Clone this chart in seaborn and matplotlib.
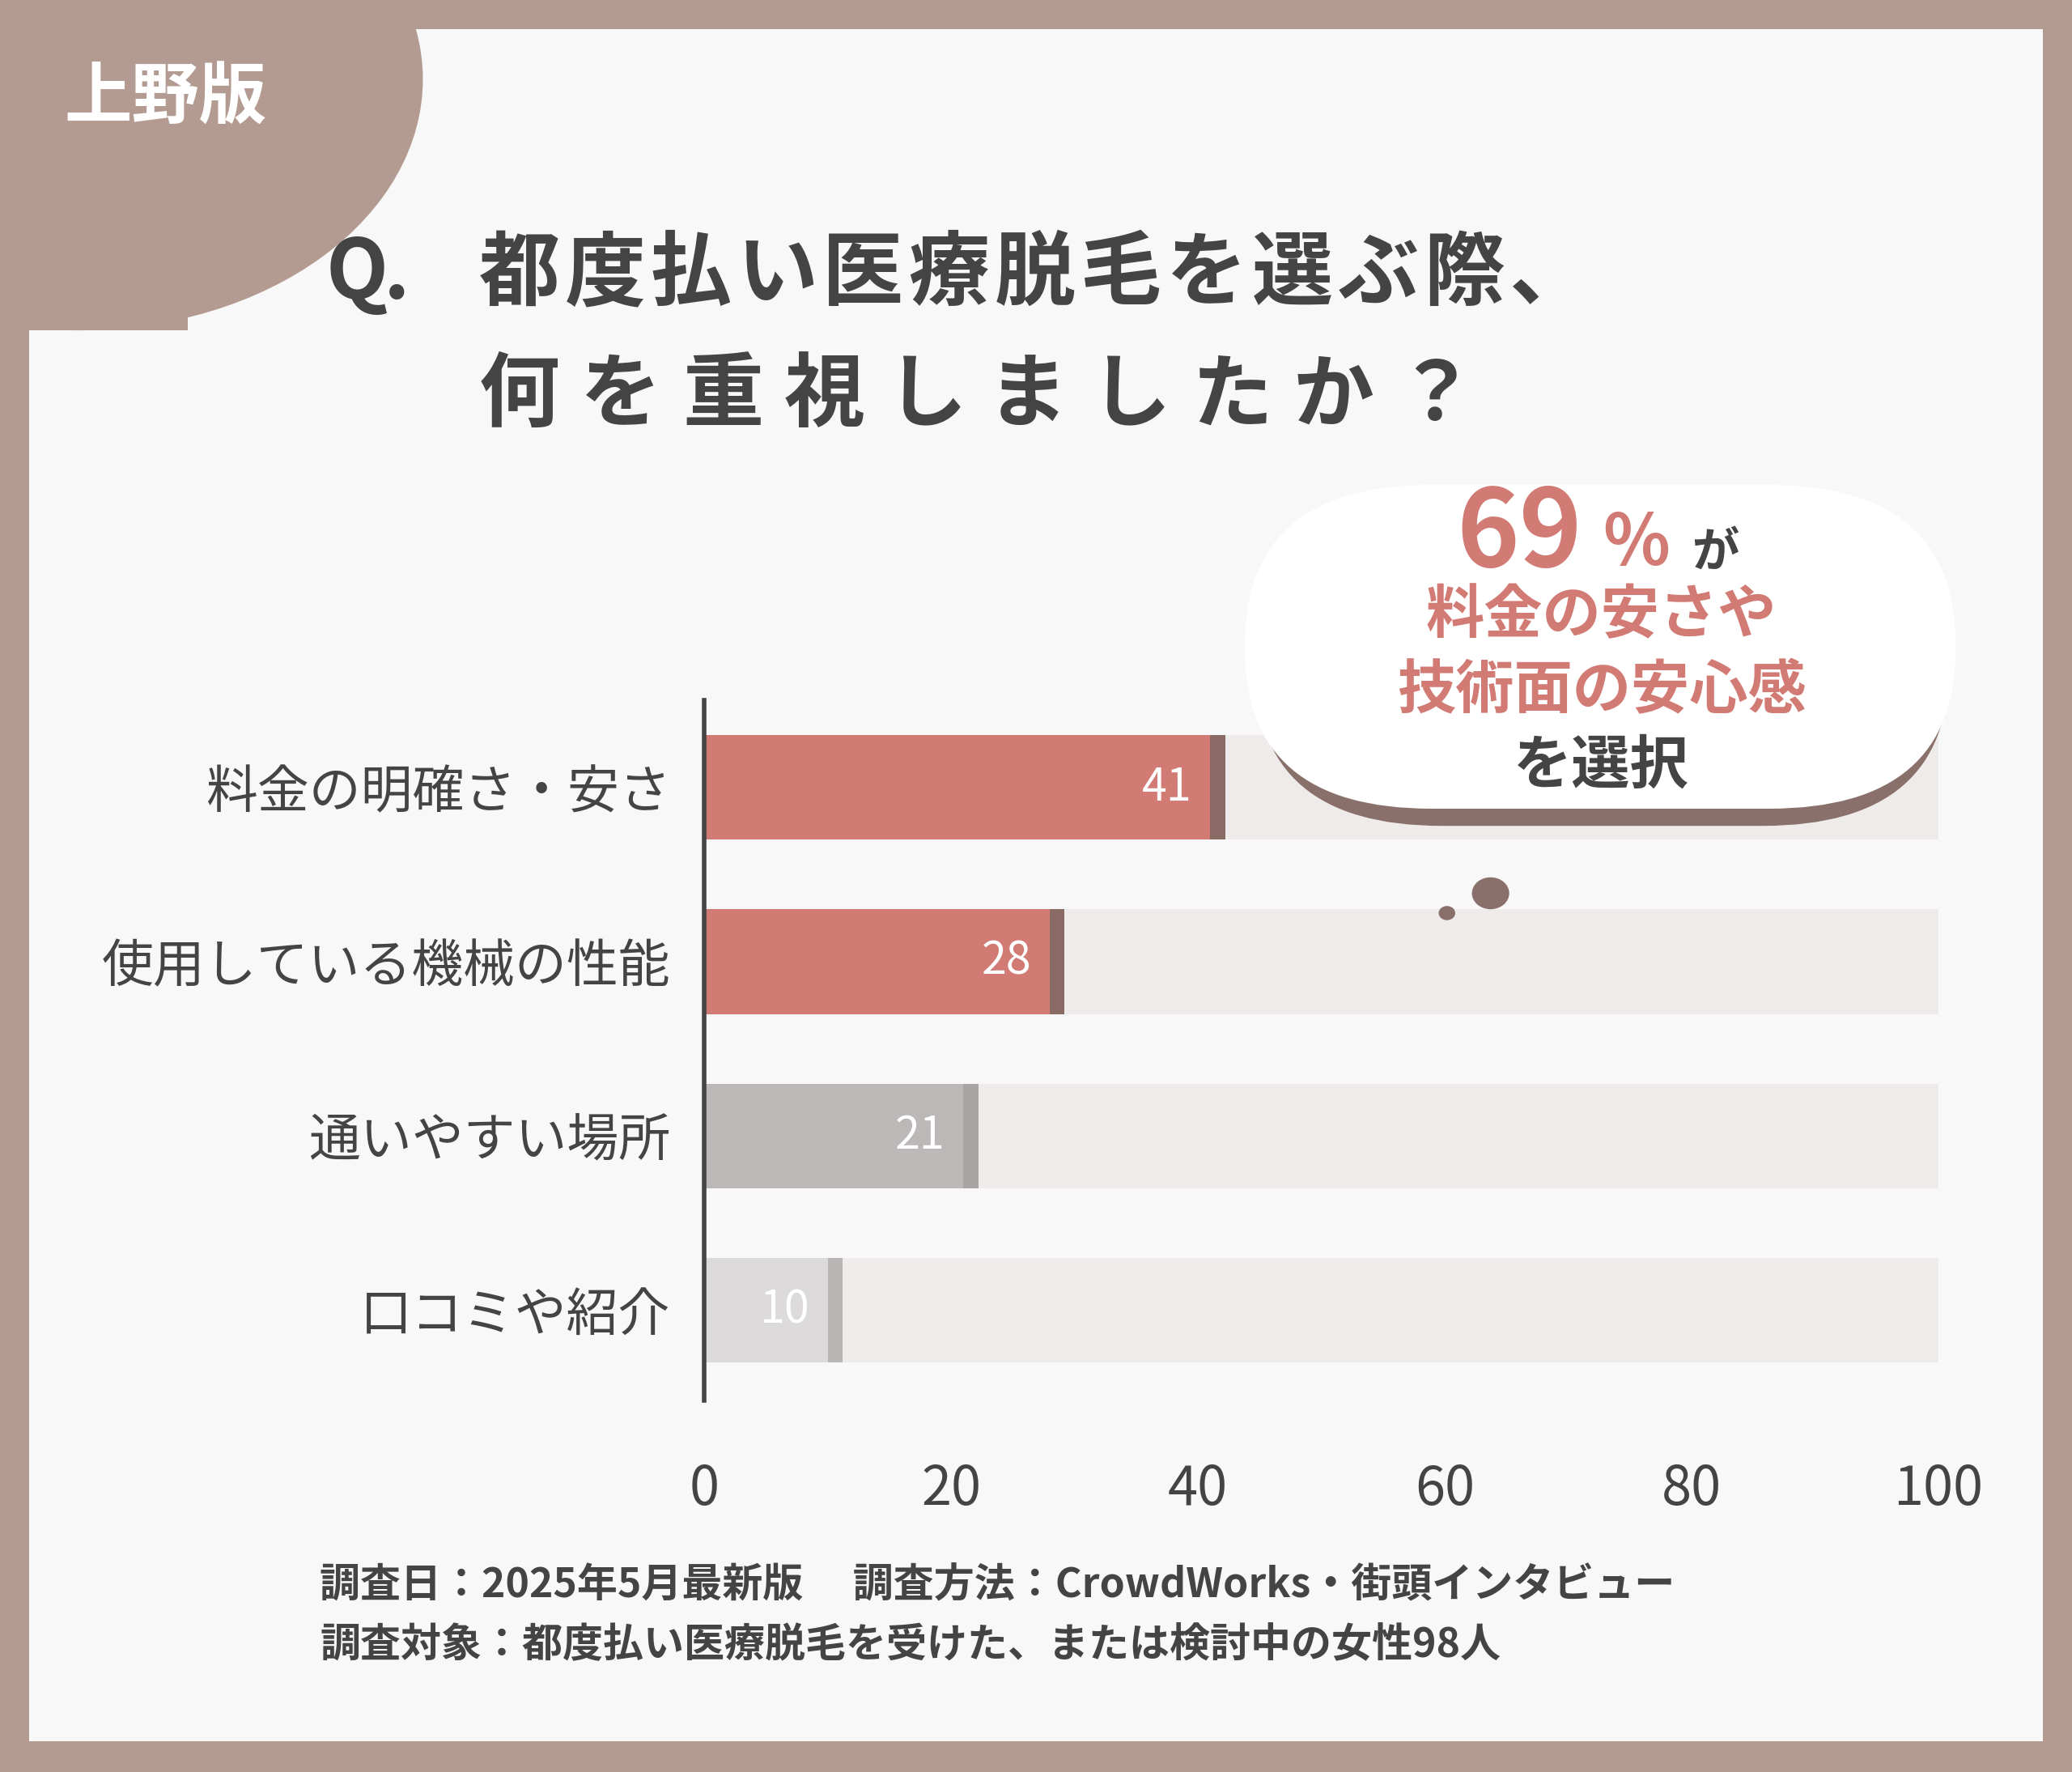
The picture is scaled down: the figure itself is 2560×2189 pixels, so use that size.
import matplotlib.pyplot as plt
import matplotlib.patches as mpatches
import seaborn as sns
import pandas as pd

categories = ["料金の明確さ・安さ", "使用している機械の性能", "通いやすい場所", "口コミや紹介"]
values = [41, 28, 21, 10]
bar_colors = ["#d27a74", "#d27a74", "#bcb8b7", "#dcdada"]
edge_colors = ["#8a6a64", "#8a6a64", "#a8a4a3", "#b8b5b4"]
x_ticks = [0, 20, 40, 60, 80, 100]
title_line1 = "Q. 都度払い医療脱毛を選ぶ際、"
title_line2 = "何を重視しましたか？"

FONT = "Noto Sans CJK JP"
plt.rcParams["font.family"] = FONT
DARK = "#444444"
BROWN = "#b39b92"
PINK = "#d27a74"

W, H = 1568, 1341
fig = plt.figure(figsize=(25.6, 21.89), dpi=100)
fig.patch.set_facecolor(BROWN)


def fx(x):
    return x / W


def fy(y):
    return 1 - y / H


def spaced_text(x, y, s, step, **kw):
    # place characters one by one to mimic wide letter spacing
    for i, ch in enumerate(s):
        fig.text(fx(x + i * step), fy(y), ch, ha="center", va="center", **kw)


# white inner panel (behind axes)
fig.add_artist(mpatches.Rectangle((fx(22), fy(1318)), fx(1524), 1296 / H,
                                  transform=fig.transFigure, facecolor="#f8f8f8",
                                  edgecolor="none", zorder=-2))
fig.add_artist(mpatches.Ellipse((fx(60), fy(60)), fx(520), 380 / H,
                                transform=fig.transFigure, facecolor=BROWN,
                                edgecolor="none", zorder=-1))
fig.add_artist(mpatches.Rectangle((fx(22), fy(250)), fx(120), 228 / H,
                                  transform=fig.transFigure, facecolor=BROWN,
                                  edgecolor="none", zorder=-1))
fig.text(fx(125), fy(75), "上野版", color="white", fontsize=60, fontweight="bold",
         ha="center", va="center")

spaced_text(270, 208, "Q.", 30, color=DARK, fontsize=72, fontweight="bold")
spaced_text(393, 208, title_line1[3:], 65, color=DARK, fontsize=72, fontweight="bold")
spaced_text(393, 300, title_line2, 77, color=DARK, fontsize=72, fontweight="bold")

ax = fig.add_axes([fx(533), fy(1060), fx(934), 530 / H])
ax.set_facecolor("none")

df = pd.DataFrame({"category": categories, "value": values})
ax.barh(range(len(categories)), [100] * len(categories), height=0.6,
        color="#efebea", zorder=1)
ax.barh(range(len(categories)), [v + 1.2 for v in values], height=0.6,
        color=edge_colors, zorder=2)
sns.barplot(data=df, x="value", y="category", hue="category", palette=bar_colors,
            legend=False, orient="h", width=0.6, ax=ax, zorder=3, saturation=1)
for i, v in enumerate(values):
    ax.text(v - 1.5, i, str(v), color="white", fontsize=40, ha="right", va="center", zorder=4)

ax.set_xlim(0, 100)
ax.set_ylim(3.52, -0.5)
ax.set_xticks(x_ticks)
ax.set_xticklabels([str(t) for t in x_ticks], fontsize=48, color=DARK)
ax.tick_params(axis="x", length=0, pad=55)
ax.tick_params(axis="y", length=0, pad=30, labelsize=46, labelcolor=DARK)
ax.set_xlabel("")
ax.set_ylabel("")
for s in ["top", "right", "bottom"]:
    ax.spines[s].set_visible(False)
ax.spines["left"].set_linewidth(4)
ax.spines["left"].set_color(DARK)
ax.spines["left"].set_zorder(5)

# speech bubble
fig.add_artist(mpatches.FancyBboxPatch((fx(950), fy(625)), fx(525), 240 / H,
                                       boxstyle="round,pad=0,rounding_size=0.09",
                                       transform=fig.transFigure, facecolor="#8a706a",
                                       edgecolor="none", zorder=6))
fig.add_artist(mpatches.FancyBboxPatch((fx(942), fy(612)), fx(538), 245 / H,
                                       boxstyle="round,pad=0,rounding_size=0.09",
                                       transform=fig.transFigure, facecolor="white",
                                       edgecolor="none", zorder=7))
fig.add_artist(mpatches.Circle((fx(1128), fy(676)), 0.009, transform=fig.transFigure,
                               facecolor="#8a706a", zorder=7))
fig.add_artist(mpatches.Circle((fx(1095), fy(691)), 0.004, transform=fig.transFigure,
                               facecolor="#8a706a", zorder=7))
fig.text(fx(1150), fy(405), "69", color=PINK, fontsize=95, fontweight="bold",
         ha="center", va="center", zorder=8)
fig.text(fx(1238), fy(412), "%", color=PINK, fontsize=62, fontweight="bold",
         ha="center", va="center", zorder=8)
fig.text(fx(1298), fy(418), "が", color=DARK, fontsize=42, fontweight="bold",
         ha="center", va="center", zorder=8)
fig.text(fx(1212), fy(466), "料金の安さや", color=PINK, fontsize=52, fontweight="bold",
         ha="center", va="center", zorder=8)
fig.text(fx(1212), fy(523), "技術面の安心感", color=PINK, fontsize=52, fontweight="bold",
         ha="center", va="center", zorder=8)
fig.text(fx(1212), fy(580), "を選択", color=DARK, fontsize=52, fontweight="bold",
         ha="center", va="center", zorder=8)

fig.text(fx(242), fy(1200), "調査日：2025年5月最新版　 調査方法：CrowdWorks・街頭インタビュー",
         color=DARK, fontsize=36, fontweight="bold", ha="left", va="center")
fig.text(fx(242), fy(1245), "調査対象：都度払い医療脱毛を受けた、または検討中の女性98人",
         color=DARK, fontsize=36, fontweight="bold", ha="left", va="center")

fig.savefig("out.png", dpi=100, facecolor=fig.get_facecolor())
